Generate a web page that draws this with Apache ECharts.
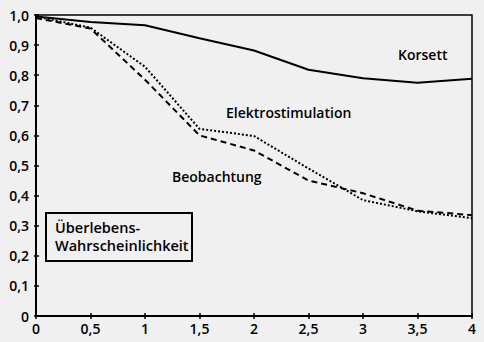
<!DOCTYPE html>
<html><head><meta charset="utf-8">
<script src="https://cdn.jsdelivr.net/npm/echarts@6/dist/echarts.min.js"></script>
<style>html,body{margin:0;padding:0;background:#f0f0f0;}#c{width:484px;height:342px;}</style>
</head><body><div id="c"></div>
<script>
const xValues = [0, 0.5, 1, 1.5, 2, 2.5, 3, 3.5, 4];
const korsett = [0.995, 0.977, 0.966, 0.923, 0.882, 0.818, 0.79, 0.775, 0.788];
const elektro = [0.995, 0.958, 0.828, 0.622, 0.598, 0.49, 0.385, 0.348, 0.325];
const beob = [0.99, 0.955, 0.785, 0.60, 0.55, 0.45, 0.408, 0.35, 0.335];
const seriesNames = ['Korsett', 'Elektrostimulation', 'Beobachtung'];
const boxLines = ['Überlebens-', 'Wahrscheinlichkeit'];

const FONT = 'Open Sans';
const pair = arr => xValues.map((x, i) => [x, arr[i]]);
const chart = echarts.init(document.getElementById('c'), null, {renderer: 'svg'});
const yFmt = v => v === 0 ? '0' : v.toFixed(1).replace('.', ',');
const xFmt = v => String(v).replace('.', ',');
const labelStyle = {color: '#000', fontFamily: FONT, fontWeight: 600, fontSize: 14};
const textFont = '600 14px "' + FONT + '"';

chart.setOption({
  backgroundColor: '#f0f0f0',
  animation: false,
  grid: {left: 36, right: 12, top: 15, bottom: 26, show: true, borderColor: '#000', borderWidth: 1.5, backgroundColor: 'transparent'},
  xAxis: [{
    type: 'value', min: 0, max: 4, interval: 0.5,
    axisLine: {show: true, lineStyle: {color: '#000', width: 2}},
    axisTick: {show: true, length: 3, lineStyle: {color: '#000', width: 1.5}},
    splitLine: {show: false},
    axisLabel: Object.assign({formatter: xFmt, margin: 5}, labelStyle)
  }, {
    type: 'value', min: 0, max: 4, interval: 0.5, position: 'bottom',
    axisLine: {show: false},
    axisTick: {show: true, inside: true, length: 3, lineStyle: {color: '#000', width: 1.5}},
    splitLine: {show: false}, axisLabel: {show: false}
  }],
  yAxis: [{
    type: 'value', min: 0, max: 1, interval: 0.1,
    axisLine: {show: true, lineStyle: {color: '#000', width: 2}},
    axisTick: {show: true, length: 2, lineStyle: {color: '#000', width: 1.5}},
    splitLine: {show: false},
    axisLabel: Object.assign({formatter: yFmt, margin: 7}, labelStyle)
  }, {
    type: 'value', min: 0, max: 1, interval: 0.1, position: 'left', offset: 0,
    axisLine: {show: false},
    axisTick: {show: true, inside: true, length: 3, lineStyle: {color: '#000', width: 1.5}},
    splitLine: {show: false}, axisLabel: {show: false}
  }],
  series: [
    {name: seriesNames[0], type: 'line', data: pair(korsett), symbol: 'none', lineStyle: {color: '#000', width: 2, type: 'solid'}},
    {name: seriesNames[1], type: 'line', data: pair(elektro), symbol: 'none', lineStyle: {color: '#000', width: 2, type: [2, 2]}},
    {name: seriesNames[2], type: 'line', data: pair(beob), symbol: 'none', lineStyle: {color: '#000', width: 2, type: [6, 4]}}
  ],
  graphic: [
    {type: 'text', left: 398, top: 47, style: {text: seriesNames[0], fill: '#000', font: textFont}},
    {type: 'text', left: 226, top: 105, style: {text: seriesNames[1], fill: '#000', font: textFont}},
    {type: 'text', left: 172, top: 169, style: {text: seriesNames[2], fill: '#000', font: textFont}},
    {type: 'rect', shape: {x: 46, y: 213, width: 146, height: 48}, style: {fill: '#f0f0f0', stroke: '#000', lineWidth: 2}, z: 10},
    {type: 'text', left: 55, top: 218, z: 11, style: {text: boxLines.join('\n'), fill: '#000', font: '600 14.5px "' + FONT + '"', lineHeight: 18.3}}
  ]
});
</script>
</body></html>
